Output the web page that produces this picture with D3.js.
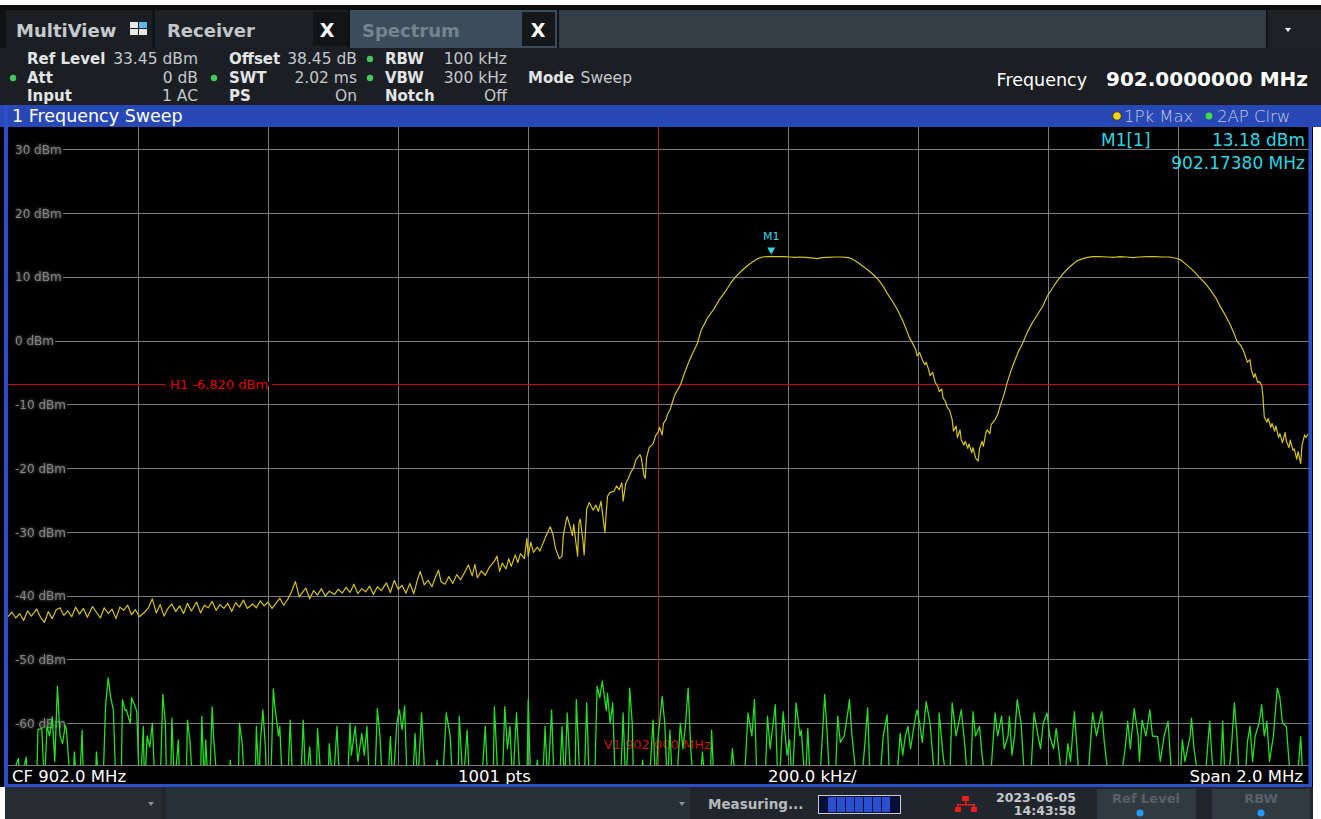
<!DOCTYPE html>
<html>
<head>
<meta charset="utf-8">
<script src="https://cdn.jsdelivr.net/npm/d3@7"></script>
<style>
  html, body { margin: 0; padding: 0; background: #ffffff; }
  svg { display: block; }
</style>
</head>
<body>
<svg id="scr" width="1321" height="819"></svg>
<script>
// ---- measurement settings ----
const centerFreq = 902.0;        // MHz
const spanMHz = 2.0;             // MHz
const sweepPoints = 1001;
const refLevel = 33.45;          // dBm
const rangeDb = 100;             // 10 dB / div
const levelTicks = [30, 20, 10, 0, -10, -20, -30, -40, -50, -60];
const freqGrid = [901.2, 901.4, 901.6, 901.8, 902.0, 902.2, 902.4, 902.6, 902.8];
const h1Level = -6.82;
const v1Freq = 902.0;
const m1Freq = 902.1738;
const m1Level = 13.18;

// Trace 1 (1Pk Max): [sweep point, dBm]
const pkMaxTrace = [[0,-43.3],[3,-42.6],[6,-43.5],[9,-42.8],[12,-43.9],[15,-42.4],[18,-43.2],[22,-42.1],[25,-43.4],[28,-44.2],[31,-42.5],[34,-43.6],[37,-42.2],[40,-41.9],[43,-43.1],[46,-42.4],[49,-43.3],[52,-41.8],[55,-42.9],[58,-42.0],[61,-43.4],[65,-41.7],[68,-42.6],[71,-43.5],[74,-41.9],[77,-42.8],[80,-42.1],[83,-43.6],[86,-41.8],[89,-42.3],[92,-41.5],[95,-43.0],[98,-42.2],[101,-43.3],[105,-42.6],[108,-41.9],[111,-40.5],[114,-42.7],[117,-41.4],[120,-43.2],[123,-42.0],[126,-41.3],[129,-42.5],[132,-41.6],[135,-42.8],[138,-41.2],[141,-42.4],[145,-41.0],[148,-42.7],[151,-41.5],[154,-41.9],[157,-40.9],[160,-42.3],[163,-41.4],[166,-42.0],[169,-41.2],[172,-42.5],[175,-41.1],[178,-41.8],[181,-40.7],[184,-42.0],[188,-41.3],[191,-41.9],[194,-40.8],[197,-41.6],[200,-41.0],[203,-42.0],[206,-41.2],[209,-40.4],[212,-41.5],[215,-40.6],[218,-39.4],[221,-37.8],[224,-40.2],[226,-39.6],[229,-38.8],[232,-40.5],[235,-39.2],[238,-39.9],[241,-38.9],[244,-40.1],[247,-39.3],[251,-39.8],[254,-39.0],[257,-39.6],[260,-38.7],[263,-39.5],[266,-38.2],[269,-39.7],[272,-38.9],[275,-39.4],[278,-38.5],[281,-39.8],[284,-38.6],[287,-39.2],[291,-38.0],[294,-39.5],[297,-37.6],[300,-39.0],[303,-38.4],[306,-39.6],[309,-38.1],[312,-39.7],[315,-37.4],[317,-36.2],[320,-38.3],[323,-37.6],[326,-38.6],[329,-36.9],[331,-36.0],[333,-37.8],[336,-38.2],[339,-37.0],[342,-38.1],[345,-36.7],[348,-37.5],[351,-36.4],[354,-35.2],[357,-36.9],[359,-35.1],[361,-37.2],[364,-36.1],[367,-36.8],[370,-35.6],[374,-34.6],[376,-33.8],[378,-36.2],[380,-34.9],[383,-35.8],[385,-34.2],[387,-35.4],[390,-33.6],[392,-34.8],[394,-33.4],[397,-34.2],[399,-31.0],[400,-33.8],[402,-31.6],[404,-33.2],[407,-32.4],[409,-33.0],[411,-32.0],[414,-30.5],[417,-29.2],[419,-30.4],[421,-32.6],[424,-34.2],[426,-33.8],[427,-30.6],[429,-28.4],[430,-27.6],[432,-29.0],[434,-30.6],[435,-28.8],[437,-32.2],[438,-33.8],[439,-28.6],[440,-28.0],[442,-31.2],[443,-33.6],[445,-26.4],[447,-25.4],[450,-26.6],[452,-25.8],[454,-26.8],[456,-25.2],[457,-26.9],[459,-30.1],[460,-27.0],[461,-24.4],[463,-23.8],[466,-23.6],[468,-22.8],[470,-23.4],[472,-22.3],[473,-25.2],[475,-22.4],[477,-21.6],[479,-20.6],[481,-20.0],[483,-18.6],[486,-17.9],[487,-18.4],[489,-21.2],[490,-21.6],[491,-18.4],[493,-16.8],[496,-16.2],[498,-14.9],[500,-14.3],[501,-13.6],[503,-14.8],[504,-13.0],[506,-12.4],[507,-11.6],[509,-10.9],[511,-9.6],[513,-8.4],[517,-7.0],[520,-5.2],[523,-3.6],[526,-2.2],[530,-0.5],[533,1.6],[538,3.6],[543,5.0],[547,6.4],[552,7.8],[556,9.1],[560,10.1],[564,10.9],[569,11.8],[573,12.4],[576,12.8],[580,13.1],[584,13.15],[587,13.18],[592,13.15],[597,13.15],[601,13.1],[605,13.05],[609,13.1],[613,13.05],[618,12.95],[622,12.85],[626,13.0],[630,13.05],[636,13.1],[641,13.1],[646,13.0],[649,12.8],[653,12.3],[657,11.7],[661,11.1],[665,10.4],[669,9.6],[673,8.5],[676,7.4],[680,6.2],[684,4.8],[688,3.1],[691,1.6],[693,0.5],[696,-0.6],[698,-1.4],[699,-2.4],[701,-1.9],[703,-3.0],[705,-3.8],[706,-3.4],[708,-4.6],[709,-5.5],[711,-5.0],[713,-6.6],[715,-7.2],[716,-8.0],[718,-7.6],[719,-9.0],[721,-9.6],[722,-10.4],[724,-10.9],[726,-12.4],[727,-14.2],[729,-13.4],[730,-15.2],[732,-14.0],[733,-15.6],[735,-16.4],[736,-15.8],[738,-16.9],[739,-16.2],[741,-17.6],[742,-16.8],[744,-18.4],[746,-18.9],[747,-17.0],[749,-15.8],[750,-16.6],[752,-14.4],[753,-14.0],[755,-14.6],[756,-13.2],[759,-12.4],[761,-11.6],[763,-10.2],[766,-8.4],[768,-6.8],[771,-4.9],[774,-3.2],[777,-1.7],[780,-0.5],[784,1.4],[788,2.9],[792,4.2],[796,5.5],[799,6.9],[803,8.2],[807,9.4],[811,10.4],[815,11.3],[819,12.0],[822,12.5],[826,12.8],[830,13.05],[834,13.15],[839,13.15],[845,13.1],[850,13.05],[855,13.15],[860,13.1],[865,13.0],[870,13.1],[876,13.15],[882,13.15],[888,13.1],[893,13.1],[898,12.9],[902,12.6],[905,12.1],[909,11.4],[913,10.6],[917,9.7],[921,8.9],[925,7.8],[929,6.6],[932,5.4],[936,4.0],[940,2.4],[943,1.0],[945,-0.1],[948,-0.8],[950,-1.6],[952,-2.8],[953,-3.4],[955,-3.0],[956,-4.6],[958,-5.8],[959,-5.2],[961,-6.6],[962,-6.4],[964,-7.0],[965,-8.8],[966,-12.0],[968,-12.8],[969,-12.2],[971,-13.6],[972,-13.0],[974,-14.2],[975,-13.4],[977,-15.2],[978,-14.6],[980,-16.0],[982,-14.4],[983,-15.8],[985,-16.8],[986,-15.6],[988,-17.2],[989,-17.0],[991,-18.6],[992,-17.4],[994,-19.3],[995,-16.4],[997,-14.8],[998,-15.2],[1000,-14.6]];

// Trace 2 (AP Clrw): [sweep point, dBm]
const clrwTrace = [[0,-70],[8,-65.5],[9,-70],[14,-65.3],[15,-70],[22,-70],[23,-61],[26,-60.8],[28,-70],[30,-60.5],[32,-62],[34,-59],[36,-66],[38,-54.2],[40,-62],[42,-63.2],[44,-60.3],[45,-61.1],[48,-70],[50,-70],[51,-64.5],[53,-70],[55,-70],[57,-61.1],[58,-70],[67,-70],[68,-64.5],[70,-70],[73,-70],[75,-57.4],[77,-52.9],[79,-56],[81,-57.9],[83,-70],[87,-70],[88,-56.3],[90,-58],[91,-57.9],[94,-60],[95,-56],[98,-57.5],[99,-58.2],[101,-70],[102,-70],[104,-60.5],[105,-70],[107,-62],[109,-63.7],[111,-60],[113,-70],[117,-70],[119,-55.5],[121,-60],[122,-70],[125,-70],[126,-59.2],[128,-70],[131,-62.6],[132,-70],[137,-70],[138,-59.5],[140,-63],[142,-70],[148,-70],[149,-58.9],[151,-70],[152,-62.6],[154,-70],[155,-70],[157,-57.4],[158,-62],[161,-70],[169,-70],[171,-65.8],[172,-70],[177,-70],[178,-60],[180,-63],[182,-70],[190,-70],[191,-60.5],[193,-70],[194,-63],[196,-57.9],[198,-64],[199,-70],[202,-70],[204,-54.6],[205,-57],[208,-62],[209,-60.5],[211,-70],[215,-70],[217,-59.5],[219,-70],[225,-70],[227,-59.5],[229,-70],[232,-63.7],[234,-70],[237,-70],[238,-60.8],[241,-70],[246,-70],[247,-63.2],[250,-70],[253,-60.5],[255,-70],[261,-70],[263,-60],[264,-65],[267,-60.5],[269,-66],[272,-61.6],[274,-65],[276,-60.5],[278,-70],[282,-70],[284,-57.7],[286,-62],[288,-70],[292,-70],[294,-62.1],[296,-70],[299,-60],[301,-57.9],[303,-61],[305,-57.3],[307,-70],[311,-70],[313,-61.6],[315,-70],[318,-58.4],[321,-70],[328,-70],[330,-65.8],[332,-70],[334,-70],[337,-58.4],[340,-62],[342,-70],[346,-70],[347,-58.9],[350,-70],[353,-61.1],[355,-70],[364,-70],[367,-60.5],[369,-70],[373,-70],[374,-57.4],[377,-70],[380,-70],[382,-57.4],[384,-64],[386,-60.5],[388,-70],[391,-58.4],[394,-70],[399,-70],[400,-56.3],[402,-70],[405,-70],[407,-65.8],[409,-70],[411,-70],[413,-60.5],[415,-70],[418,-57.9],[420,-70],[424,-70],[426,-60.5],[428,-70],[430,-58.4],[433,-70],[436,-70],[437,-56.3],[440,-70],[443,-70],[445,-56.8],[447,-70],[451,-70],[453,-54.2],[455,-56],[457,-53.4],[460,-58],[461,-55.3],[463,-60],[465,-56.8],[467,-70],[471,-70],[473,-58.4],[475,-70],[477,-62],[478,-54.5],[480,-60],[481,-70],[486,-70],[488,-65.8],[490,-70],[493,-70],[496,-59.5],[498,-70],[500,-62],[503,-55.8],[505,-60],[507,-70],[509,-61.1],[511,-70],[514,-70],[517,-60],[519,-64],[521,-60],[523,-54.5],[525,-64],[527,-70],[532,-70],[534,-64.5],[536,-70],[540,-70],[541,-61.1],[543,-70],[555,-70],[557,-64],[560,-70],[566,-70],[569,-58.4],[572,-62],[574,-56.3],[576,-70],[582,-70],[584,-58.9],[586,-64],[590,-57.1],[592,-70],[593,-70],[596,-58.2],[599,-65],[601,-62.6],[603,-70],[606,-56.8],[609,-62],[610,-61.1],[613,-70],[615,-60.8],[617,-70],[624,-70],[628,-55.5],[630,-62],[632,-70],[636,-70],[638,-58.9],[640,-63],[643,-62],[646,-58],[647,-56.3],[649,-62],[653,-70],[656,-70],[659,-63],[661,-57.6],[663,-70],[670,-70],[673,-62],[676,-58.7],[678,-70],[683,-70],[686,-61.6],[688,-65],[690,-62],[692,-60.5],[694,-64],[697,-60],[699,-57.9],[701,-60],[703,-63],[706,-56.6],[709,-60],[713,-70],[715,-70],[716,-58.4],[719,-65],[722,-70],[724,-70],[726,-56.8],[729,-62],[731,-60],[733,-57.9],[736,-64],[738,-70],[740,-70],[742,-58.2],[744,-62],[747,-60.5],[749,-65],[752,-70],[755,-70],[759,-58.4],[761,-62],[764,-58.9],[766,-64],[769,-62],[770,-58.9],[772,-65],[774,-62],[776,-56.3],[779,-60],[782,-70],[786,-70],[789,-58.4],[792,-62],[794,-64],[796,-60],[799,-58.4],[801,-62],[804,-64],[806,-60.8],[809,-66],[810,-70],[812,-70],[815,-63.2],[817,-66],[820,-58.2],[822,-64],[824,-70],[830,-70],[834,-58.4],[837,-62],[839,-60],[841,-58.2],[843,-63],[847,-70],[855,-70],[859,-64],[861,-59.7],[863,-64],[866,-57.7],[869,-62],[870,-66],[872,-59.5],[875,-62],[878,-57.9],[880,-62],[884,-62.1],[886,-66],[889,-62],[892,-59.7],[894,-66],[895,-70],[901,-70],[903,-62.6],[905,-66],[909,-62],[910,-59.2],[912,-64],[916,-70],[920,-70],[924,-59.7],[926,-66],[929,-70],[932,-70],[934,-59.7],[936,-70],[938,-70],[941,-63],[943,-56.8],[945,-62],[947,-70],[951,-70],[953,-63],[955,-60.5],[957,-66],[959,-62],[962,-60],[964,-57.1],[966,-62],[968,-59.7],[970,-66],[973,-62],[976,-54.5],[978,-56],[980,-60],[983,-60.5],[985,-66],[987,-70],[991,-70],[994,-62.1],[996,-70],[998,-70],[1000,-70]];

// ---- drawing ----
const svg = d3.select("#scr");
const DV = "'DejaVu Sans', sans-serif";

function rect(g, x, y, w, h, fill) {
  return g.append("rect").attr("x", x).attr("y", y).attr("width", w).attr("height", h).attr("fill", fill);
}
function txt(g, x, y, s, o = {}) {
  return g.append("text").attr("x", x).attr("y", y).text(s)
    .attr("font-family", o.f || DV)
    .attr("font-size", o.s || 15)
    .attr("font-weight", o.w || 400)
    .attr("fill", o.c || "#ffffff")
    .attr("text-anchor", o.a || "start");
}
function dot(g, cx, cy, r, fill, stroke) {
  return g.append("circle").attr("cx", cx).attr("cy", cy).attr("r", r)
    .attr("fill", fill).attr("stroke", stroke || "none").attr("stroke-width", 1);
}

const defs = svg.append("defs");
const glow = defs.append("filter").attr("id", "glow").attr("x", "-20%").attr("y", "-50%").attr("width", "140%").attr("height", "200%");
glow.append("feGaussianBlur").attr("in", "SourceGraphic").attr("stdDeviation", 1.6).attr("result", "b");
const fm = glow.append("feMerge");
fm.append("feMergeNode").attr("in", "b");
fm.append("feMergeNode").attr("in", "SourceGraphic");

// ---- tab bar ----
const tabBar = svg.append("g");
rect(tabBar, 0, 5, 1321, 5, "#0b0d0f");
rect(tabBar, 0, 10, 1321, 38, "#101315");
rect(tabBar, 6, 10, 146, 38, "#1b1f23");
txt(tabBar, 16, 37, "MultiView", { s: 18, w: 700, c: "#c6cacd" });
rect(tabBar, 130, 22, 8, 6, "#e8e8e8");
rect(tabBar, 139, 22, 8, 6, "#5fb6e8");
rect(tabBar, 130, 29, 8, 6, "#e8e8e8");
rect(tabBar, 139, 29, 8, 6, "#e8e8e8");
rect(tabBar, 155, 10, 192, 38, "#1c2125");
txt(tabBar, 167, 37, "Receiver", { s: 18, w: 700, c: "#c2c6c9" });
rect(tabBar, 313, 12, 34, 34, "#121518");
txt(tabBar, 327, 37, "X", { s: 19, w: 700, c: "#ffffff", a: "middle" });
rect(tabBar, 350, 10, 207, 38, "#3c4c5a");
txt(tabBar, 362, 37, "Spectrum", { s: 18, w: 700, c: "#75848f" });
rect(tabBar, 522, 12, 33, 34, "#14181b");
txt(tabBar, 538, 37, "X", { s: 19, w: 700, c: "#ffffff", a: "middle" });
rect(tabBar, 559, 10, 707, 38, "#323d46");
rect(tabBar, 1268, 10, 53, 38, "#1d2226");
tabBar.append("path").attr("d", "M1285,28 l6,0 l-3,4 z").attr("fill", "#ffffff");

// ---- settings header ----
const hdr = svg.append("g");
rect(hdr, 0, 48, 1321, 57, "#1b1f23");
const LBL = { s: 15, w: 700, c: "#e2e4e6" };
const VAL = { s: 15.5, w: 400, c: "#c4c7cb", a: "end" };
const rows = [64, 83, 101];
txt(hdr, 27, rows[0], "Ref Level", LBL); txt(hdr, 198, rows[0], "33.45 dBm", VAL);
txt(hdr, 229, rows[0], "Offset", LBL);   txt(hdr, 357, rows[0], "38.45 dB", VAL);
txt(hdr, 385, rows[0], "RBW", LBL);      txt(hdr, 507, rows[0], "100 kHz", VAL);
txt(hdr, 27, rows[1], "Att", LBL);       txt(hdr, 198, rows[1], "0 dB", VAL);
txt(hdr, 229, rows[1], "SWT", LBL);      txt(hdr, 357, rows[1], "2.02 ms", VAL);
txt(hdr, 385, rows[1], "VBW", LBL);      txt(hdr, 507, rows[1], "300 kHz", VAL);
txt(hdr, 528, rows[1], "Mode", LBL);     txt(hdr, 632, rows[1], "Sweep", VAL);
txt(hdr, 27, rows[2], "Input", LBL);     txt(hdr, 198, rows[2], "1 AC", VAL);
txt(hdr, 229, rows[2], "PS", LBL);       txt(hdr, 357, rows[2], "On", VAL);
txt(hdr, 385, rows[2], "Notch", LBL);    txt(hdr, 507, rows[2], "Off", VAL);
[[13, 78], [214, 78], [370, 59], [370, 78]].forEach(p => dot(hdr, p[0], p[1], 3.2, "#44c85c"));
txt(hdr, 1087, 86, "Frequency", { s: 17.5, w: 400, c: "#ffffff", a: "end" });
txt(hdr, 1308, 86, "902.0000000 MHz", { s: 20, w: 700, c: "#ffffff", a: "end" });

// ---- window title bar ----
const tb = svg.append("g");
rect(tb, 0, 105, 1321, 22, "#2848b6");
txt(tb, 12, 122, "1 Frequency Sweep", { s: 17.5, w: 400, c: "#ffffff" });
dot(tb, 1117, 116, 4.3, "#f2d21a", "#3a3a10");
txt(tb, 1124, 122, "1Pk Max", { s: 16.5, w: 300, c: "#c4cce0" });
dot(tb, 1209, 116, 3.4, "#3ede3e");
txt(tb, 1217, 122, "2AP Clrw", { s: 16.5, w: 300, c: "#c4cce0" });

// ---- diagram area ----
const plot = { left: 8, right: 1308.5, top: 127.2, bottom: 765 };
rect(svg, 0, 127, 1313, 660, "#000000");

const x = d3.scaleLinear()
  .domain([centerFreq - spanMHz / 2, centerFreq + spanMHz / 2])
  .range([plot.left, plot.right]);
const y = d3.scaleLinear()
  .domain([refLevel - rangeDb, refLevel])
  .range([plot.bottom, plot.top]);
const pointFreq = i => x.domain()[0] + i * spanMHz / (sweepPoints - 1);

defs.append("clipPath").attr("id", "plotClip")
  .append("rect").attr("x", plot.left).attr("y", plot.top)
  .attr("width", plot.right - plot.left).attr("height", plot.bottom - plot.top);

// vertical grid (200 kHz/div)
const gx = svg.append("g").attr("transform", `translate(0,${plot.bottom})`)
  .call(d3.axisBottom(x).tickValues(freqGrid).tickSize(-(plot.bottom - plot.top)).tickFormat(""));
gx.select(".domain").remove();
gx.selectAll(".tick line").attr("stroke", "#7c7c7c").attr("stroke-width", 1).attr("shape-rendering", "crispEdges");

// horizontal grid with level labels
const gy = svg.append("g").attr("transform", `translate(${plot.left},0)`)
  .call(d3.axisRight(y).tickValues(levelTicks).tickSize(plot.right - plot.left).tickFormat(d => d + " dBm"));
gy.select(".domain").remove();
gy.selectAll(".tick text")
  .attr("x", 7).attr("dy", "0.35em").attr("text-anchor", "start")
  .attr("font-family", DV).attr("font-size", 12).attr("fill", "#808080")
  .attr("filter", "url(#glow)");
gy.selectAll(".tick").each(function () {
  const t = d3.select(this);
  const w = t.select("text").node().getComputedTextLength();
  t.select("line").attr("x1", 7 + w + 1).attr("stroke", "#7c7c7c").attr("stroke-width", 1)
    .attr("shape-rendering", "crispEdges");
});
svg.append("line").attr("x1", plot.left).attr("x2", plot.right)
  .attr("y1", plot.bottom).attr("y2", plot.bottom)
  .attr("stroke", "#7c7c7c").attr("shape-rendering", "crispEdges");

// display line H1
const hY = y(h1Level);
const h1 = svg.append("g");
h1.append("line").attr("x1", plot.left).attr("x2", plot.right).attr("y1", hY).attr("y2", hY)
  .attr("stroke", "#d40000").attr("stroke-width", 1).attr("shape-rendering", "crispEdges");
const h1t = txt(h1, 170, hY, "H1 " + h1Level.toFixed(3) + " dBm", { s: 13, c: "#e00000" }).attr("dy", "0.35em");
const h1w = h1t.node().getComputedTextLength();
h1.insert("rect", "text").attr("x", 166).attr("y", hY - 2).attr("width", h1w + 8).attr("height", 4).attr("fill", "#000");

// frequency line V1
const vX = x(v1Freq);
svg.append("line").attr("x1", vX).attr("x2", vX).attr("y1", plot.top).attr("y2", plot.bottom)
  .attr("stroke", "#a8181c").attr("stroke-width", 1).attr("shape-rendering", "crispEdges");
txt(svg, vX - 1, 744, "V1 " + v1Freq.toFixed(3) + " MHz", { s: 13, c: "#c41414", a: "middle" }).attr("dy", "0.35em");

// traces
const line = d3.line().x(d => x(pointFreq(d[0]))).y(d => y(d[1]));
const traces = svg.append("g").attr("clip-path", "url(#plotClip)");
traces.append("path").datum(clrwTrace).attr("d", line)
  .attr("fill", "none").attr("stroke", "#22e022").attr("stroke-width", 1.3).attr("stroke-linejoin", "round");
traces.append("path").datum(pkMaxTrace).attr("d", line)
  .attr("fill", "none").attr("stroke", "#d6c412").attr("stroke-width", 1.2).attr("stroke-linejoin", "round");

// marker M1
const mx = x(m1Freq), my = y(m1Level);
svg.append("path").attr("d", `M${mx - 4},${my - 9} L${mx + 4},${my - 9} L${mx},${my - 2} Z`).attr("fill", "#30d8e8");
txt(svg, mx, my - 16, "M1", { s: 11, c: "#30d8e8", a: "middle" });

// marker readout
const CY = "#2ad6e4";
txt(svg, 1101, 146, "M1[1]", { s: 17, c: CY });
txt(svg, 1305, 146, m1Level.toFixed(2) + " dBm", { s: 17, c: CY, a: "end" });
txt(svg, 1305, 169, m1Freq.toFixed(5) + " MHz", { s: 17, c: CY, a: "end" });

// footer of diagram
const ft = svg.append("g");
rect(ft, plot.left, plot.bottom + 1, plot.right - plot.left, 19, "#000");
const FT = { s: 16.5, c: "#ffffff" };
txt(ft, 12, 782, "CF " + centerFreq.toFixed(1) + " MHz", FT);
txt(ft, 458, 782, sweepPoints + " pts", FT);
txt(ft, 768, 782, (spanMHz * 1000 / 10).toFixed(1) + " kHz/", FT);
txt(ft, 1303, 782, "Span " + spanMHz.toFixed(1) + " MHz", Object.assign({}, FT, { a: "end" }));

// window frame
const fr = svg.append("g");
rect(fr, 4, 105, 4, 682, "#2b4fc8");
rect(fr, 1308.5, 127, 3.5, 660, "#2b4fc8");
rect(fr, 4, 784, 1308, 3, "#2b4fc8");

// ---- status bar ----
const sb = svg.append("g");
rect(sb, 5, 787, 1308, 32, "#20262b");
rect(sb, 5, 787, 156, 32, "#262d33");
rect(sb, 166, 787, 524, 32, "#283037");
sb.append("path").attr("d", "M148,802 l6,0 l-3,4 z").attr("fill", "#8a9096");
sb.append("path").attr("d", "M679,802 l6,0 l-3,4 z").attr("fill", "#8a9096");
txt(sb, 708, 809, "Measuring...", { s: 13.5, w: 700, c: "#b5b9bc" });
rect(sb, 818, 795, 83, 19, "#c8ccd0");
rect(sb, 819, 796, 81, 17, "#0a0f35");
for (let i = 1; i < 8; i++) rect(sb, 819 + i * 9, 797, 8, 15, "#2a4fd0");
sb.append("g").call(g => {
  rect(g, 962, 796, 7, 5, "#e82020");
  rect(g, 965, 801, 1.5, 3, "#e82020");
  rect(g, 957, 804, 18, 1.5, "#e82020");
  rect(g, 957, 804, 1.5, 3, "#e82020");
  rect(g, 973.5, 804, 1.5, 3, "#e82020");
  rect(g, 955, 807, 6, 5, "#e82020");
  rect(g, 971, 807, 6, 5, "#e82020");
});
txt(sb, 1076, 802, "2023-06-05", { s: 12.5, w: 700, c: "#c4c8cc", a: "end" });
txt(sb, 1076, 815, "14:43:58", { s: 12.5, w: 700, c: "#c4c8cc", a: "end" });
rect(sb, 1097, 789, 99, 30, "#323a41");
txt(sb, 1146, 803, "Ref Level", { s: 13, w: 700, c: "#56616b", a: "middle" });
dot(sb, 1140, 813, 3.5, "#1f9bff");
rect(sb, 1212, 789, 98, 30, "#323a41");
txt(sb, 1261, 803, "RBW", { s: 13, w: 700, c: "#56616b", a: "middle" });
dot(sb, 1261, 813, 3.5, "#1f9bff");
</script>
</body>
</html>
